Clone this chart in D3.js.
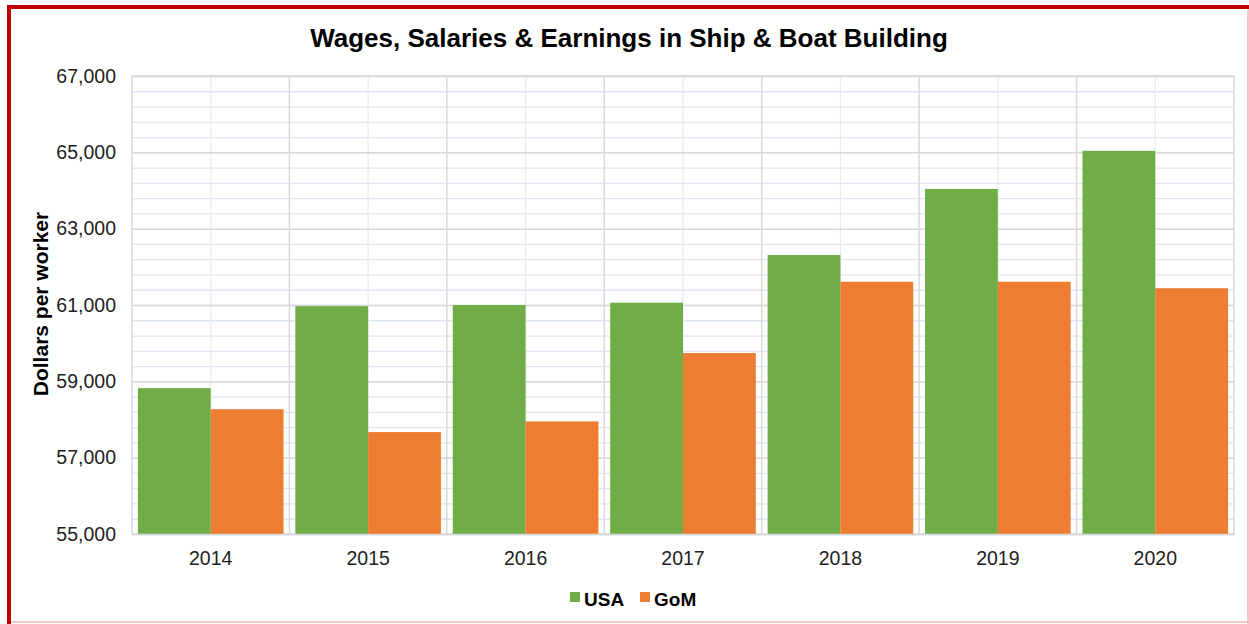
<!DOCTYPE html>
<html>
<head>
<meta charset="utf-8">
<script src="https://cdn.jsdelivr.net/npm/d3@7"></script>
<style>
  body { margin: 0; background: #fff; }
  svg text { font-family: "Liberation Sans", Arial, sans-serif; fill: #222; }
</style>
</head>
<body>
<div class="chart"></div>
<script>
const years = ['2014', '2015', '2016', '2017', '2018', '2019', '2020'];
const seriesNames = ['USA', 'GoM'];
const usaValues = [58820, 60970, 61000, 61060, 62310, 64040, 65040];
const gomValues = [58270, 57670, 57950, 59740, 61610, 61610, 61440];
const yTicks = [55000, 57000, 59000, 61000, 63000, 65000, 67000];

draw();

function draw() {
	const W = 1249, H = 624;
	const margin = { top: 76, right: 15, bottom: 90, left: 132 };
	const width = W - margin.left - margin.right;
	const height = H - margin.top - margin.bottom;

	const colors = d3.scaleOrdinal().domain(seriesNames).range(['#70ad47', '#ed7d31']);

	const x = d3.scaleBand().domain(years).range([0, width]).paddingInner(0.075).paddingOuter(0.0375);
	const xCat = d3.scaleBand().domain(years).range([0, width]);
	const xSub = d3.scaleBand().domain(seriesNames).range([0, x.bandwidth()]);
	const y = d3.scaleLinear().domain([55000, 67000]).range([height, 0]);

	const svgRoot = d3.select('.chart')
		.append('svg')
		.attr('width', W)
		.attr('height', H);

	// frame of the picture
	svgRoot.append('line').attr('x1', 7).attr('x2', W).attr('y1', 7).attr('y2', 7)
		.attr('stroke', '#c00000').attr('stroke-width', 4);
	svgRoot.append('line').attr('x1', 9).attr('x2', 9).attr('y1', 5).attr('y2', H)
		.attr('stroke', '#c00000').attr('stroke-width', 4);
	svgRoot.append('line').attr('x1', W - 1).attr('x2', W - 1).attr('y1', 9).attr('y2', H)
		.attr('stroke', '#f4b6b6').attr('stroke-width', 1.5);
	svgRoot.append('line').attr('x1', 11).attr('x2', W).attr('y1', H - 2).attr('y2', H - 2)
		.attr('stroke', '#f4b6b6').attr('stroke-width', 1.5);

	svgRoot.append('text')
		.attr('x', 629).attr('y', 47)
		.attr('text-anchor', 'middle')
		.style('font-size', '26px')
		.style('font-weight', 'bold')
		.style('fill', '#000')
		.text('Wages, Salaries & Earnings in Ship & Boat Building');

	const svg = svgRoot.append('g')
		.attr('transform', `translate(${ margin.left }, ${ margin.top })`);

	// minor horizontal gridlines
	svg.append('g')
		.selectAll('line')
		.data(d3.range(55000, 67001, 400).filter(v => v % 2000 !== 0))
		.join('line')
		.attr('x1', 0).attr('x2', width)
		.attr('y1', d => y(d) + 0.5).attr('y2', d => y(d) + 0.5)
		.attr('stroke', '#dde7f3').attr('stroke-width', 1.3);

	// center lines of each category
	svg.append('g')
		.selectAll('line')
		.data(years)
		.join('line')
		.attr('x1', d => xCat(d) + xCat.bandwidth() / 2).attr('x2', d => xCat(d) + xCat.bandwidth() / 2)
		.attr('y1', 0).attr('y2', height)
		.attr('stroke', '#ececec').attr('stroke-width', 1.3);

	// major horizontal gridlines
	const yAxis = d3.axisLeft(y)
		.tickValues(yTicks)
		.tickSize(-width)
		.tickPadding(16)
		.tickFormat(d3.format(','));

	const gy = svg.append('g').call(yAxis);
	gy.select('.domain').remove();
	gy.selectAll('.tick line').attr('stroke', '#d9d9d9').attr('stroke-width', 1.5);
	gy.selectAll('.tick text').style('font-size', '19.5px').style('fill', '#222');

	// category boundaries
	svg.append('g')
		.selectAll('line')
		.data(years.slice(1))
		.join('line')
		.attr('x1', d => xCat(d)).attr('x2', d => xCat(d))
		.attr('y1', 0).attr('y2', height)
		.attr('stroke', '#d9d9d9').attr('stroke-width', 1.5);

	svg.append('rect')
		.attr('width', width).attr('height', height)
		.attr('fill', 'none')
		.attr('stroke', '#d9d9d9').attr('stroke-width', 1.5);

	const rows = years.map((yr, i) => ({ year: yr, values: [
		{ key: 'USA', value: usaValues[i] },
		{ key: 'GoM', value: gomValues[i] }
	] }));

	svg.append('g')
		.selectAll('g')
		.data(rows)
		.join('g')
		.attr('transform', d => `translate(${ x(d.year) }, 0)`)
		.selectAll('rect')
		.data(d => d.values)
		.join('rect')
		.attr('x', d => xSub(d.key))
		.attr('width', xSub.bandwidth())
		.attr('y', d => y(d.value))
		.attr('height', d => height - y(d.value))
		.attr('fill', d => colors(d.key));

	const xAxis = d3.axisBottom(xCat).tickSize(0).tickPadding(17);
	const gx = svg.append('g')
		.attr('transform', `translate(0, ${ height })`)
		.call(xAxis);
	gx.select('.domain').attr('stroke', '#d9d9d9').attr('stroke-width', 1.5);
	gx.selectAll('.tick text').style('font-size', '19.5px').style('fill', '#222');

	svgRoot.append('text')
		.attr('transform', `translate(48, 304) rotate(-90)`)
		.attr('text-anchor', 'middle')
		.style('font-size', '21px')
		.style('font-weight', 'bold')
		.style('fill', '#000')
		.text('Dollars per worker');

	// legend
	const legend = svgRoot.append('g').attr('transform', 'translate(570, 606)');
	const legendX = [0, 70];
	seriesNames.forEach((name, i) => {
		const g = legend.append('g').attr('transform', `translate(${ legendX[i] }, 0)`);
		g.append('rect').attr('x', 0).attr('y', -14).attr('width', 10).attr('height', 10)
			.attr('fill', colors(name));
		g.append('text').attr('x', 14).attr('y', 0)
			.style('font-size', '19px').style('font-weight', 'bold').style('fill', '#000')
			.text(name);
	});
}
</script>
</body>
</html>
